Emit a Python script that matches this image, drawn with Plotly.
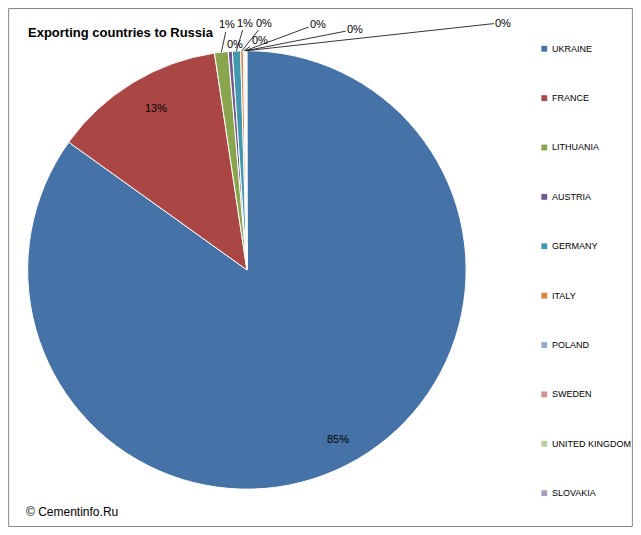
import math
import plotly.graph_objects as go

countries = ["UKRAINE", "FRANCE", "LITHUANIA", "AUSTRIA", "GERMANY", "ITALY",
             "POLAND", "SWEDEN", "UNITED KINGDOM", "SLOVAKIA"]
shares = [84.9, 12.74, 1.0, 0.3, 0.6, 0.2, 0.1, 0.08, 0.05, 0.03]
colors = ["#4572A7", "#AA4643", "#89A54E", "#71588F", "#4198AF", "#DB843D",
          "#93A9CF", "#D19392", "#B9CD96", "#A99BBD"]
# where the small-slice labels sit, in reference pixels
label_pos = [None, None, (225, 17), (233, 37), (243, 15), (263, 15),
             (258, 33), (318, 16), (356, 22), (508, 15)]

W, H = 625, 519
sx, sy = W / 641, H / 535
cx_ref, cy_ref, r_ref = 245, 270, 226

total = sum(shares)
pct = [f"{round(v / total * 100)}%" for v in shares]

fig = go.Figure(go.Pie(
    labels=countries, values=shares, sort=False, direction="clockwise",
    rotation=0, automargin=False,
    marker=dict(colors=colors, line=dict(color="white", width=1)),
    textinfo="none",
    domain=dict(x=[(cx_ref - r_ref) / 641, (cx_ref + r_ref) / 641],
                y=[1 - (cy_ref + r_ref) / 535, 1 - (cy_ref - r_ref) / 535]),
    showlegend=False, hoverinfo="label+percent",
))

shapes = [dict(type="rect", xref="paper", yref="paper", x0=0.001, y0=0.001,
               x1=0.999, y1=0.999, line=dict(color="#888888", width=1))]
annotations = [
    dict(text="<b>Exporting countries to Russia</b>", x=18 / 641, y=1 - 25 / 535,
         xref="paper", yref="paper", xanchor="left", yanchor="middle",
         showarrow=False, font=dict(size=13, family="Liberation Sans", color="black")),
    dict(text="© Cementinfo.Ru", x=16 / 641, y=1 - 520 / 535,
         xref="paper", yref="paper", xanchor="left", yanchor="middle",
         showarrow=False, font=dict(size=12, family="Liberation Sans", color="black")),
]

r_px = min(2 * r_ref * sx, 2 * r_ref * sy) / 2
cx_px, cy_px = cx_ref * sx, cy_ref * sy
lab_font = dict(size=11, family="Liberation Sans", color="black")
cum = 0
for v, p, pos in zip(shares, pct, label_pos):
    theta = 2 * math.pi * (cum + v / 2) / total
    cum += v
    if pos is None:
        rr = 0.91 * r_px
        ix = cx_px + rr * math.sin(theta)
        iy = cy_px - rr * math.cos(theta)
        annotations.append(dict(text=p, x=ix / W, y=1 - iy / H, xref="paper",
                                yref="paper", showarrow=False, font=lab_font))
        continue
    ex = cx_px + r_px * math.sin(theta)
    ey = cy_px - r_px * math.cos(theta)
    lx, ly = pos[0] * sx, pos[1] * sy
    annotations.append(dict(
        text=p, x=ex / W, y=1 - ey / H,
        xref="paper", yref="paper", showarrow=True, arrowhead=0, arrowwidth=0.8,
        arrowcolor="black", ax=lx - ex, ay=ly - ey, standoff=0, font=lab_font))

for i, (name, col) in enumerate(zip(countries, colors)):
    py = 42 + i * 50.9
    shapes.append(dict(type="rect", xref="paper", yref="paper",
                       x0=547 / 641, x1=553 / 641,
                       y0=1 - (py + 3) / 535, y1=1 - (py - 3) / 535,
                       fillcolor=col, line=dict(width=0)))
    annotations.append(dict(text=name, x=556 / 641, y=1 - py / 535,
                            xref="paper", yref="paper", xanchor="left",
                            yanchor="middle", showarrow=False,
                            font=dict(size=9, family="Liberation Sans", color="black")))

fig.update_layout(width=W, height=H, margin=dict(l=0, r=0, t=0, b=0, autoexpand=False),
                  paper_bgcolor="white", shapes=shapes, annotations=annotations)
fig.write_html("out.html")
